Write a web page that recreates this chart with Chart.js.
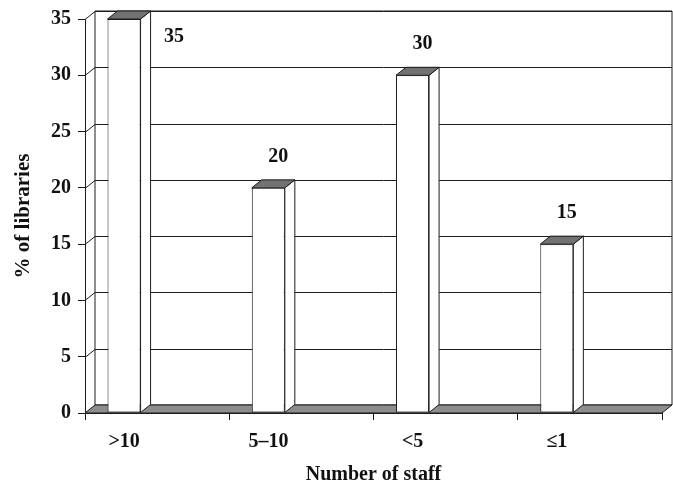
<!DOCTYPE html>
<html><head><meta charset="utf-8">
<script src="https://cdn.jsdelivr.net/npm/chart.js@4"></script>
<style>html,body{margin:0;padding:0;background:#fff}</style>
</head><body>
<canvas id="c" width="673" height="483"></canvas>
<script>
// ---- data ----
const categories = ['>10', '5\u201310', '<5', '\u22641'];
const percentLibraries = [35, 20, 30, 15];
const spacer = [null, null, null, null];
const yMin = 0, yMax = 35, yStep = 5;
const xTitle = 'Number of staff';
const yTitle = '% of libraries';

// ---- style ----
const LINE = '#1c1c1c';
const TEXT = '#111';
const FLOOR = '#8c8c8c';
const TOPFACE = '#727272';
const DX = 10, DY = -8;
const FONT = {family: "'Liberation Serif', 'Times New Roman', serif", weight: 'bold', size: 20};

function poly(ctx, pts, fill) {
  ctx.beginPath();
  ctx.moveTo(pts[0][0], pts[0][1]);
  for (let i = 1; i < pts.length; i++) ctx.lineTo(pts[i][0], pts[i][1]);
  ctx.closePath();
  if (fill) { ctx.fillStyle = fill; ctx.fill(); }
  ctx.stroke();
}

const threeD = {
  id: 'threeD',
  beforeDatasetsDraw(chart) {
    const {ctx, chartArea: a, scales: {y}} = chart;
    ctx.save();
    ctx.lineWidth = 1;
    ctx.strokeStyle = LINE;
    // back wall
    poly(ctx, [[a.left + DX, a.top + DY], [a.right + DX, a.top + DY], [a.right + DX, a.bottom + DY], [a.left + DX, a.bottom + DY]], '#fff');
    // gridlines on back wall + side-wall connectors
    y.ticks.forEach(t => {
      const py = Math.round(y.getPixelForValue(t.value)) + 0.5;
      ctx.beginPath();
      ctx.moveTo(a.left + DX, py + DY);
      ctx.lineTo(a.right + DX, py + DY);
      ctx.moveTo(a.left, py);
      ctx.lineTo(a.left + DX, py + DY);
      ctx.stroke();
    });
    // floor
    poly(ctx, [[a.left, a.bottom], [a.right, a.bottom], [a.right + DX, a.bottom + DY], [a.left + DX, a.bottom + DY]], FLOOR);
    ctx.restore();
  },
  afterDatasetsDraw(chart) {
    const {ctx} = chart;
    const meta = chart.getDatasetMeta(0);
    ctx.save();
    ctx.lineWidth = 1;
    ctx.strokeStyle = LINE;
    meta.data.forEach((bar, i) => {
      const p = bar.getProps(['x', 'y', 'base', 'width'], true);
      const l = p.x - p.width / 2, r = p.x + p.width / 2, t = p.y, b = p.base;
      poly(ctx, [[r, t], [r + DX, t + DY], [r + DX, b + DY], [r, b]], '#fff');
      poly(ctx, [[l, t], [l + DX, t + DY], [r + DX, t + DY], [r, t]], TOPFACE);
      // value label
      let lx = p.x + 10, ly = t - 31;
      if (ly < 30) { lx = p.x + 50; ly = t + 18; }
      ctx.fillStyle = TEXT;
      ctx.font = `bold ${FONT.size}px ${FONT.family}`;
      ctx.textAlign = 'center';
      ctx.textBaseline = 'middle';
      ctx.fillText(String(percentLibraries[i]), lx, ly);
    });
    ctx.restore();
  }
};

new Chart(document.getElementById('c'), {
  type: 'bar',
  data: {
    labels: categories,
    datasets: [
      {label: yTitle, data: percentLibraries, backgroundColor: '#fff', borderColor: LINE, borderWidth: 1, borderSkipped: false},
      {label: '', data: spacer}
    ]
  },
  options: {
    responsive: false,
    animation: false,
    devicePixelRatio: 1,
    categoryPercentage: 0.917,
    barPercentage: 0.5,
    layout: {padding: {top: 19, right: 11, left: 0, bottom: 0}},
    plugins: {legend: {display: false}, tooltip: {enabled: false}},
    scales: {
      x: {
        type: 'category',
        offset: true,
        grid: {offset: true, drawOnChartArea: false, drawTicks: true, tickLength: 7, color: LINE},
        border: {display: true, color: LINE},
        ticks: {font: FONT, color: TEXT, labelOffset: -33, padding: 10, maxRotation: 0},
        title: {display: true, text: xTitle, font: FONT, color: TEXT, padding: {top: 0, bottom: -4}},
        afterFit: s => { s.height = 70; }
      },
      y: {
        min: yMin, max: yMax,
        ticks: {stepSize: yStep, font: FONT, color: TEXT, padding: 7},
        grid: {drawOnChartArea: false, drawTicks: true, tickLength: 7, color: LINE},
        border: {display: true, color: LINE},
        title: {display: true, text: yTitle, font: {...FONT, size: 21}, color: TEXT, padding: {top: 11, bottom: 0}},
        afterFit: s => { s.width = 85; }
      }
    }
  },
  plugins: [threeD]
});
</script>
</body></html>
